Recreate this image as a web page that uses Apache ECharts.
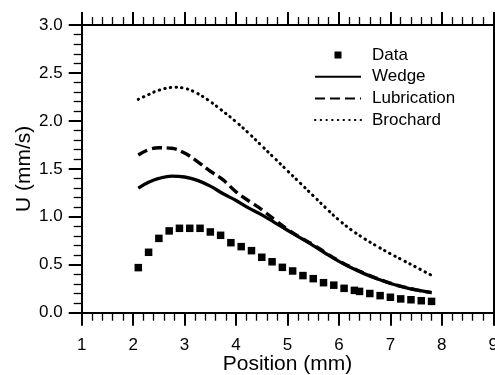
<!DOCTYPE html>
<html>
<head>
<meta charset="utf-8">
<script src="https://cdn.jsdelivr.net/npm/echarts@6/dist/echarts.min.js"></script>
<style>
  html, body { margin: 0; padding: 0; background: #fff; }
  #chart { width: 495px; height: 375px; }
</style>
</head>
<body>
<div id="chart"></div>
<script>
// Measured front velocity U along the channel
const dataX = [2.1, 2.3, 2.5, 2.7, 2.9, 3.1, 3.3, 3.5, 3.7, 3.9, 4.1, 4.3, 4.5, 4.7, 4.9,
               5.1, 5.3, 5.5, 5.7, 5.9, 6.1, 6.3, 6.4, 6.6, 6.8, 7.0, 7.2, 7.4, 7.6, 7.8];
const dataU = [0.47, 0.63, 0.775, 0.853, 0.88, 0.88, 0.88, 0.842, 0.807, 0.73, 0.689, 0.647, 0.578, 0.531, 0.473,
               0.435, 0.387, 0.355, 0.313, 0.287, 0.254, 0.233, 0.222, 0.2, 0.178, 0.161, 0.144, 0.135, 0.125, 0.118];

// Model predictions
const modelX = [2.1, 2.3, 2.5, 2.75, 3.0, 3.25, 3.5, 3.75, 4.0, 4.25, 4.5, 4.75,
                5.0, 5.25, 5.5, 5.75, 6.0, 6.25, 6.5, 6.75, 7.0, 7.25, 7.5, 7.8];
const wedgeU = [1.30, 1.36, 1.40, 1.425, 1.415, 1.38, 1.32, 1.24, 1.17, 1.09, 1.02, 0.94,
                0.86, 0.78, 0.70, 0.615, 0.535, 0.465, 0.405, 0.352, 0.305, 0.268, 0.237, 0.21];
const lubricationU = [1.645, 1.70, 1.72, 1.715, 1.665, 1.575, 1.475, 1.385, 1.26, 1.165, 1.075, 0.97,
                      0.87, 0.785, 0.71, 0.622, 0.54, 0.47, 0.41, 0.356, 0.308, 0.27, 0.238, 0.21];
const brochardX = [2.1, 2.3, 2.5, 2.8, 3.0, 3.2, 3.45, 3.7, 4.0, 4.25, 4.5, 4.75,
                   5.0, 5.25, 5.5, 5.75, 6.0, 6.25, 6.5, 6.75, 7.0, 7.25, 7.5, 7.8];
const brochardU = [2.225, 2.275, 2.32, 2.35, 2.34, 2.30, 2.22, 2.12, 1.99, 1.87, 1.74, 1.61,
                   1.48, 1.35, 1.22, 1.09, 0.965, 0.86, 0.77, 0.69, 0.615, 0.545, 0.475, 0.39];

const seriesNames = ['Data', 'Wedge', 'Lubrication', 'Brochard'];
const xTitle = 'Position (mm)';
const yTitle = 'U (mm/s)';

const FONT = '"Liberation Sans", Arial, Helvetica, sans-serif';
const pairs = (xs, ys) => xs.map((x, i) => [x, ys[i]]);

function frameAxis(position, withLabels, extra) {
  return Object.assign({
    type: 'value',
    position: position,
    nameMoveOverlap: false,
    axisLine: { show: true, onZero: false, lineStyle: { color: '#000', width: 2 } },
    axisTick: { show: true, inside: false, length: 13, lineStyle: { color: '#000', width: 2 } },
    minorTick: { show: true, splitNumber: 5, length: 8, lineStyle: { color: '#000', width: 1.3 } },
    splitLine: { show: false },
    minorSplitLine: { show: false },
    axisLabel: { show: withLabels, color: '#000', fontSize: 17, fontFamily: FONT }
  }, extra);
}

const chart = echarts.init(document.getElementById('chart'), null, { renderer: 'canvas' });

// line entries in the legend show only the stroke, no marker
const hideMarker = { opacity: 0 };

chart.setOption({
  animation: false,
  backgroundColor: '#fff',
  grid: { left: 81.7, right: 1.7, top: 25, bottom: 62.3, containLabel: false, outerBoundsMode: 'none' },
  legend: {
    orient: 'vertical',
    left: 309,
    top: 40,
    itemWidth: 46,
    itemHeight: 7,
    itemGap: 1.7,
    selectedMode: false,
    textStyle: { color: '#000', fontSize: 17, fontFamily: FONT, lineHeight: 20, padding: [0, 0, 0, 6] },
    data: [
      { name: seriesNames[0], icon: 'path://M0,0L10,0L10,10L0,10Z' },
      { name: seriesNames[1], itemStyle: hideMarker },
      { name: seriesNames[2], itemStyle: hideMarker },
      { name: seriesNames[3], itemStyle: hideMarker }
    ]
  },
  xAxis: [
    frameAxis('bottom', true, {
      min: 1, max: 9, interval: 1,
      name: xTitle, nameLocation: 'middle', nameGap: 41,
      nameTextStyle: { color: '#000', fontSize: 21, fontFamily: FONT },
      axisLabel: { show: true, color: '#000', fontSize: 17, fontFamily: FONT, margin: 24 }
    }),
    frameAxis('top', false, { min: 1, max: 9, interval: 1 })
  ],
  yAxis: [
    frameAxis('left', true, {
      min: 0, max: 3, interval: 0.5,
      name: yTitle, nameLocation: 'middle', nameGap: 47, nameRotate: 90,
      nameTextStyle: { color: '#000', fontSize: 21, fontFamily: FONT },
      axisLabel: { show: true, color: '#000', fontSize: 17, fontFamily: FONT, margin: 19,
                   formatter: v => v.toFixed(1) }
    }),
    frameAxis('right', false, { min: 0, max: 3, interval: 0.5 })
  ],
  series: [
    {
      name: seriesNames[0], type: 'scatter', symbol: 'rect', symbolSize: 7.5,
      itemStyle: { color: '#000', opacity: 1 }, z: 5,
      data: pairs(dataX, dataU)
    },
    {
      name: seriesNames[1], type: 'line', symbol: 'none', smooth: 0.4,
      lineStyle: { color: '#000', width: 3.3, type: 'solid' },
      itemStyle: { color: '#000' },
      data: pairs(modelX, wedgeU)
    },
    {
      name: seriesNames[2], type: 'line', symbol: 'none', smooth: 0.4,
      lineStyle: { color: '#000', width: 3.4, type: [10, 5] },
      itemStyle: { color: '#000' },
      data: pairs(modelX, lubricationU)
    },
    {
      name: seriesNames[3], type: 'line', symbol: 'none', smooth: 0.4,
      lineStyle: { color: '#000', width: 3, type: [0.5, 5.2], cap: 'round' },
      itemStyle: { color: '#000' },
      data: pairs(brochardX, brochardU)
    }
  ]
});
</script>
</body>
</html>
